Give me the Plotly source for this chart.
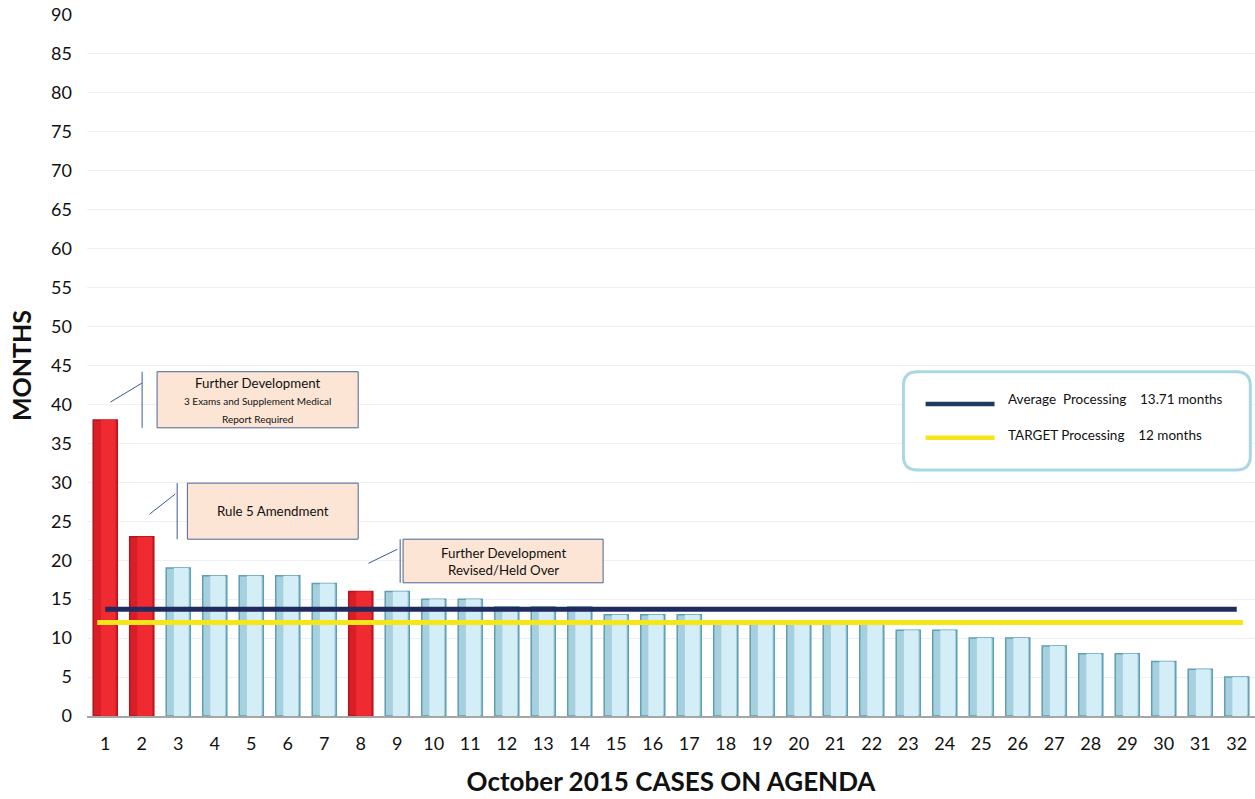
import plotly.graph_objects as go

cases = list(range(1, 33))
months = [38, 23, 19, 18, 18, 18, 17, 16, 16, 15, 15, 14, 14, 14, 13, 13, 13,
          12, 12, 12, 12, 12, 11, 11, 10, 10, 9, 8, 8, 7, 6, 5]
flagged_cases = [1, 2, 8]
average_months = 13.71
target_months = 12
y_ticks = list(range(0, 95, 5))

FONT = "Lato"
base_cols = ["#d81e26" if c in flagged_cases else "#a6d0de" for c in cases]
line_cols = ["#b3161d" if c in flagged_cases else "#5f9fb4" for c in cases]
hi_cols = ["#ef2b31" if c in flagged_cases else "#d4eef7" for c in cases]

fig = go.Figure()
fig.add_trace(go.Bar(x=cases, y=months, width=0.66, marker=dict(color=base_cols, line=dict(color=line_cols, width=1.5)),
                     showlegend=False, hoverinfo="x+y"))
fig.add_trace(go.Bar(x=cases, y=months, width=0.4, offset=-0.12,
                     marker=dict(color=hi_cols, line=dict(width=0)), showlegend=False, hoverinfo="skip"))
fig.update_layout(barmode="overlay")

fig.add_trace(go.Scatter(x=[cases[0] - 0.22, cases[-1] + 0.17], y=[target_months] * 2, mode="lines",
                         line=dict(color="#f5e61a", width=5), showlegend=False, hoverinfo="skip"))
fig.add_trace(go.Scatter(x=[cases[0], cases[-1]], y=[average_months] * 2, mode="lines",
                         line=dict(color="#1f2b5e", width=5), showlegend=False, hoverinfo="skip"))

# callout boxes (data coords)
callouts = [
    dict(x0=2.42, x1=7.93, y0=37.0, y1=44.2, vx=2.01, d=(1.14, 40.3, 2.01, 42.75),
         text="Further Development<br><span style='font-size:10px'>3 Exams and Supplement Medical<br>Report Required</span>", size=13.3),
    dict(x0=3.25, x1=7.93, y0=22.7, y1=29.9, vx=2.97, d=(2.21, 25.9, 2.92, 28.5),
         text="Rule 5 Amendment", size=13.3),
    dict(x0=9.16, x1=14.64, y0=17.1, y1=22.7, vx=9.08, d=(8.21, 19.6, 9.0, 21.4),
         text="Further Development<br>Revised/Held Over", size=13.3),
]
for c in callouts:
    fig.add_shape(type="rect", xref="x", yref="y", x0=c["x0"], x1=c["x1"], y0=c["y0"], y1=c["y1"],
                  fillcolor="#fce5d5", line=dict(color="#4a6496", width=1), layer="above")
    fig.add_shape(type="line", xref="x", yref="y", x0=c["vx"], x1=c["vx"], y0=c["y0"], y1=c["y1"],
                  line=dict(color="#3e5a8e", width=1))
    dx0, dy0, dx1, dy1 = c["d"]
    fig.add_shape(type="line", xref="x", yref="y", x0=dx0, y0=dy0, x1=dx1, y1=dy1,
                  line=dict(color="#3e5a8e", width=1))
    fig.add_annotation(x=(c["x0"] + c["x1"]) / 2, y=(c["y0"] + c["y1"]) / 2, xref="x", yref="y",
                       text=c["text"], showarrow=False, font=dict(family=FONT, size=c["size"], color="#111"),
                       align="center")

# legend box (paper coords), rounded
x0, x1, y0, y1, r = 0.699, 0.996, 0.351, 0.491, 0.012
ry = r * 1168 / 701
path = (f"M {x0 + r},{y1} L {x1 - r},{y1} Q {x1},{y1} {x1},{y1 - ry} L {x1},{y0 + ry} "
        f"Q {x1},{y0} {x1 - r},{y0} L {x0 + r},{y0} Q {x0},{y0} {x0},{y0 + ry} "
        f"L {x0},{y1 - ry} Q {x0},{y1} {x0 + r},{y1} Z")
fig.add_shape(type="path", xref="paper", yref="paper", path=path, fillcolor="white",
              line=dict(color="#a9d8e4", width=3), layer="above")
fig.add_shape(type="line", xref="paper", yref="paper", x0=0.718, x1=0.777, y0=0.445, y1=0.445,
              line=dict(color="#1f3864", width=4.5))
fig.add_shape(type="line", xref="paper", yref="paper", x0=0.718, x1=0.777, y0=0.397, y1=0.397,
              line=dict(color="#f5e61a", width=4.5))
fig.add_annotation(x=0.787, y=0.452, xref="paper", yref="paper", xanchor="left", yanchor="middle",
                   text=f"Average  Processing    {average_months} months", showarrow=False,
                   font=dict(family=FONT, size=13.5, color="#111"))
fig.add_annotation(x=0.787, y=0.401, xref="paper", yref="paper", xanchor="left", yanchor="middle",
                   text=f"TARGET Processing    {target_months} months", showarrow=False,
                   font=dict(family=FONT, size=13.5, color="#111"))

fig.update_layout(
    width=1255, height=799, margin=dict(l=87, r=0, t=15, b=83),
    plot_bgcolor="white", paper_bgcolor="white", bargap=0.34,
    font=dict(family=FONT, color="#111"),
    xaxis=dict(range=[0.5, 32.5], tickmode="array", tickvals=cases, ticktext=[str(c) for c in cases],
               tickfont=dict(size=18, color="#111"), showgrid=False, showline=True, linecolor="#a6a6a6",
               linewidth=2, ticks="", ticklabelstandoff=10,
               title=dict(text="<b>October 2015 CASES ON AGENDA</b>", font=dict(size=26, color="#111"), standoff=20)),
    yaxis=dict(range=[0, 90], tickmode="array", tickvals=y_ticks, tickfont=dict(size=18, color="#111"),
               showgrid=True, gridcolor="#eef0f5", gridwidth=1, zeroline=False, showline=False,
               ticks="", ticklabelstandoff=14,
               title=dict(text="<b>MONTHS</b>", font=dict(size=25, color="#111"), standoff=12)),
    showlegend=False,
)

# remove the browser's default 8px body margin so the figure fills the window exactly
fig.write_html("out.html", config={"displayModeBar": False},
               post_script="document.body.style.margin='0';document.body.style.overflow='hidden';")
